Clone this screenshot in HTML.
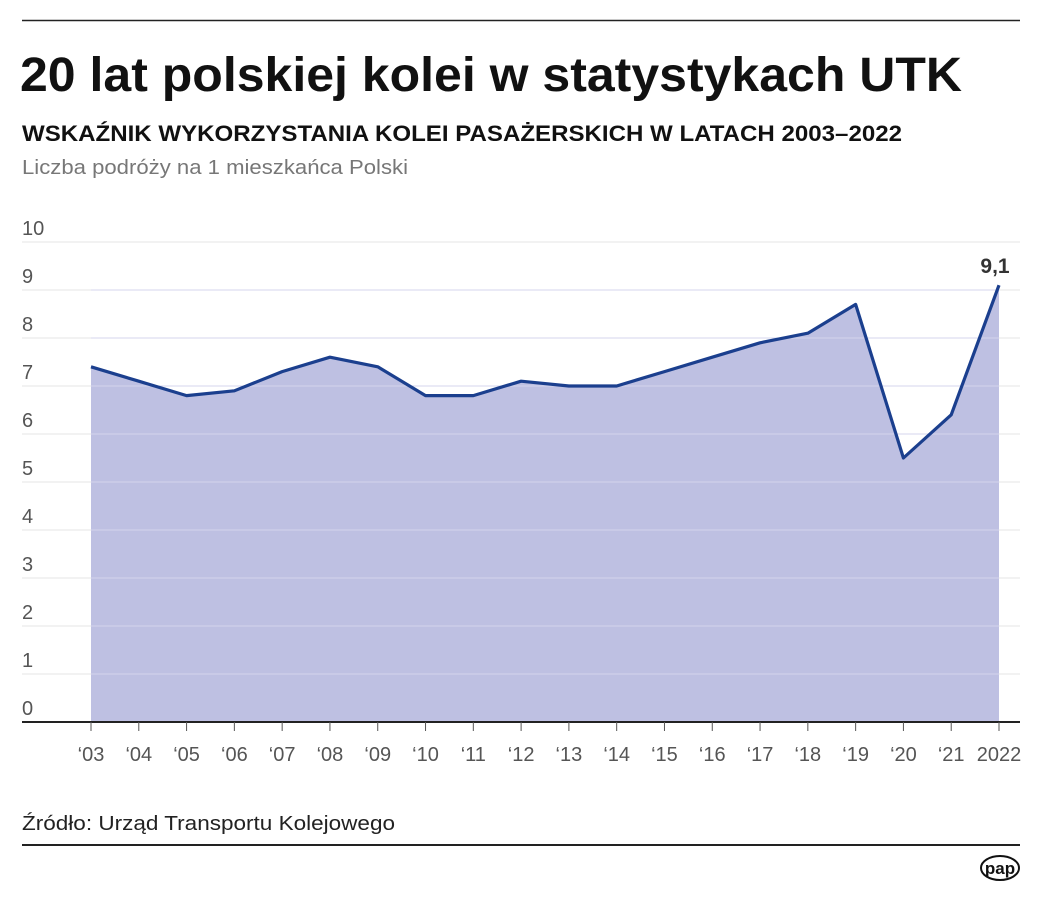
<!DOCTYPE html>
<html><head><meta charset="utf-8"><style>
body{margin:0;background:#fff;font-family:"Liberation Sans",sans-serif;}
svg text{font-family:"Liberation Sans",sans-serif;}
</style></head><body>
<svg width="1042" height="893" xmlns="http://www.w3.org/2000/svg">
<line x1="22" y1="20.5" x2="1020" y2="20.5" stroke="#222" stroke-width="1.5"/>
<text x="20" y="91" font-size="48" font-weight="bold" fill="#111" textLength="942" lengthAdjust="spacingAndGlyphs">20 lat polskiej kolei w statystykach UTK</text>
<text x="22" y="141" font-size="22" font-weight="bold" fill="#111" textLength="880" lengthAdjust="spacingAndGlyphs">WSKAŹNIK WYKORZYSTANIA KOLEI PASAŻERSKICH W LATACH 2003–2022</text>
<text x="22" y="174" font-size="20" fill="#777" textLength="386" lengthAdjust="spacingAndGlyphs">Liczba podróży na 1 mieszkańca Polski</text>
<g id="grid"></g>
<g id="plot"></g>
<text x="22" y="830" font-size="20" fill="#222" textLength="373" lengthAdjust="spacingAndGlyphs">Źródło: Urząd Transportu Kolejowego</text>
<line x1="22" y1="845" x2="1020" y2="845" stroke="#222" stroke-width="2"/>
<g>
<ellipse cx="1000" cy="868" rx="19" ry="12" fill="none" stroke="#111" stroke-width="2"/>
<text x="1000" y="874" font-size="17" font-weight="bold" text-anchor="middle" fill="#111">pap</text>
</g>
</svg>
<script>
const categories=["‘03","‘04","‘05","‘06","‘07","‘08","‘09","‘10","‘11","‘12","‘13","‘14","‘15","‘16","‘17","‘18","‘19","‘20","‘21","2022"];
const values=[7.4,7.1,6.8,6.9,7.3,7.6,7.4,6.8,6.8,7.1,7.0,7.0,7.3,7.6,7.9,8.1,8.7,5.5,6.4,9.1];
const yTicks=[0,1,2,3,4,5,6,7,8,9,10];
const lastLabel="9,1";
const NS="http://www.w3.org/2000/svg";
const x=i=>91+i*(999-91)/(categories.length-1);
const y=v=>722-v*48;
function mk(t,a,p){const e=document.createElementNS(NS,t);for(const k in a)e.setAttribute(k,a[k]);p.appendChild(e);return e;}
const grid=document.getElementById('grid'),plot=document.getElementById('plot');
yTicks.forEach(t=>{
 if(t>0){const l=mk('line',{x1:22,x2:1020,y1:y(t),y2:y(t),stroke:'#e6e6e6','stroke-width':1},grid);
 
 }
 const tx=mk('text',{x:22,y:y(t)-7,'font-size':20,fill:'#555'},grid);tx.textContent=t;
 
 
});
let d='M'+x(0)+','+y(0);
values.forEach((v,i)=>d+=' L'+x(i)+','+y(v));
d+=' L'+x(values.length-1)+','+y(0)+' Z';
const area=mk('path',{d:d,fill:'#bec0e2'},plot);


yTicks.forEach(t=>{if(t>0&&t<10){const l=mk('line',{x1:x(0),x2:x(values.length-1),y1:y(t),y2:y(t),stroke:'#d4d5ec','stroke-width':1},plot);
 
 }});
const line=mk('polyline',{points:values.map((v,i)=>x(i)+','+y(v)).join(' '),fill:'none',stroke:'#1b3f8e','stroke-width':3.2,'stroke-linejoin':'round'},plot);


const ax=mk('line',{x1:22,x2:1020,y1:722,y2:722,stroke:'#222','stroke-width':2},plot);


categories.forEach((c,i)=>{
 const tk=mk('line',{x1:x(i),x2:x(i),y1:722,y2:731,stroke:'#555','stroke-width':1},plot);
 
 
 const t=mk('text',{x:x(i),y:761,'font-size':20,fill:'#555','text-anchor':'middle'},plot);t.textContent=c;
 
 
});
const vl=mk('text',{x:x(values.length-1)-4,y:y(values[values.length-1])-12,'font-size':21,'font-weight':'bold',fill:'#333','text-anchor':'middle'},plot);
vl.textContent=lastLabel;


</script>
</body></html>
